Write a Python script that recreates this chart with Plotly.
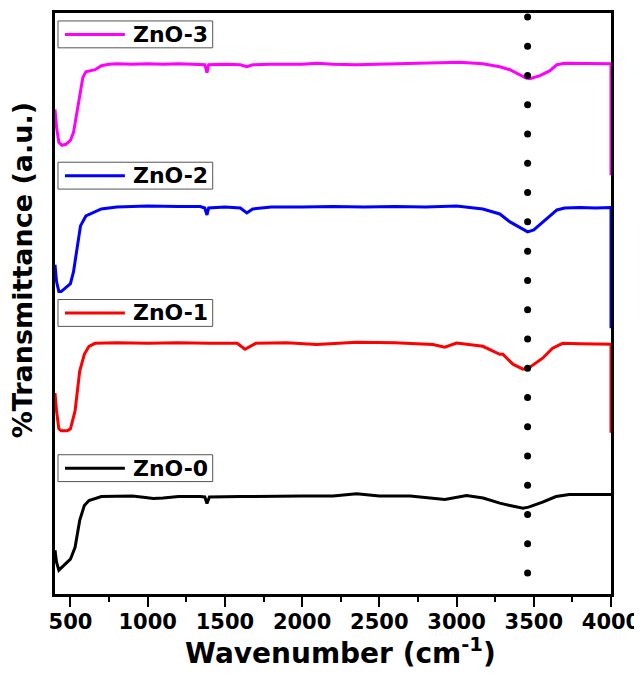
import numpy as np
import plotly.graph_objects as go

# ---------------- data ----------------
wn_zno3 = [400, 410, 425, 445, 470, 500, 520, 540, 560, 580, 600, 630, 660, 700, 750, 800, 900, 1000,
           1100, 1200, 1340, 1370, 1384, 1395, 1500, 1600, 1642, 1680, 1800, 2000, 2095, 2200, 2353, 2500,
           2700, 2956, 3020, 3170, 3280, 3345, 3410, 3450, 3475, 3540, 3605, 3650, 3700, 3800, 3900, 4000, 4000]
t_zno3 = [487, 469, 454, 451, 452, 456, 464, 482, 504, 519, 525, 526, 527, 531, 532.5, 533, 532.5, 533,
          532.5, 533, 532.5, 532, 524, 532, 532.5, 532, 530, 532, 532.5, 532.5, 533.5, 532.5, 532, 532.5,
          533, 534, 534.5, 533, 530, 527, 522, 518.5, 518, 521, 526, 532, 533.5, 533.5, 533, 533, 421]

wn_zno2 = [400, 410, 425, 440, 470, 500, 520, 540, 565, 600, 640, 700, 800, 1000, 1200, 1340, 1370, 1384,
           1395, 1500, 1600, 1642, 1680, 1800, 2000, 2200, 2400, 2600, 2800, 3000, 3170, 3280, 3346, 3420,
           3460, 3500, 3560, 3620, 3650, 3700, 3800, 3900, 4000, 4000]
t_zno2 = [331, 314, 304, 304, 308, 312, 324, 344, 370, 380, 383, 387, 389, 390, 389.5, 389.5, 388, 381,
          388, 389, 388, 383, 387, 389, 389, 389.5, 389, 389.5, 389, 390, 387, 382, 374, 367,
          364, 366, 374, 382, 386, 388, 388.5, 388, 388.5, 267]

wn_zno1 = [400, 410, 425, 440, 480, 500, 530, 560, 590, 620, 660, 800, 1000, 1200, 1400, 1580, 1630,
           1700, 1900, 2095, 2353, 2600, 2847, 2924, 3000, 3170, 3280, 3300, 3365, 3430, 3466, 3557,
           3622, 3687, 3800, 3900, 4000, 4000]
t_zno1 = [202, 184, 166, 164, 164, 166, 184, 224, 241, 249, 252, 252.5, 252, 252.5, 252, 252, 246,
          252, 252.5, 250.7, 253, 252.5, 250.7, 248, 252.3, 249, 241, 241, 231, 226, 227, 237,
          247, 252, 251.5, 251.5, 251, 162]

wn_zno0 = [400, 410, 425, 445, 470, 500, 530, 560, 590, 620, 700, 800, 900, 972, 1037, 1100, 1200, 1340,
           1370, 1384, 1400, 1600, 1800, 2000, 2200, 2353, 2500, 2700, 2924, 3065, 3172, 3280, 3346,
           3430, 3466, 3557, 3644, 3730, 3850, 4000]
t_zno0 = [44, 32, 24, 27, 31, 35, 47, 74, 89, 94, 98, 98.5, 98.5, 97.3, 96, 96.5, 98, 98,
          97.5, 91, 97.5, 98, 98.5, 98.5, 98.5, 100.7, 98.5, 98.5, 95, 99, 96.5, 91.3, 89,
          86.3, 87.3, 92.3, 98, 100, 100, 100]

series_names = ["ZnO-3", "ZnO-2", "ZnO-1", "ZnO-0"]
series_colors = ["#FF00FF", "#0000FF", "#FF0000", "#000000"]
series_x = [wn_zno3, wn_zno2, wn_zno1, wn_zno0]
series_y = [t_zno3, t_zno2, t_zno1, t_zno0]

marker_wn = 3460  # dotted guide position (cm-1)
x_ticks = [500, 1000, 1500, 2000, 2500, 3000, 3500, 4000]

# ---------------- layout geometry (page pixels) ----------------
FONT = "DejaVu Sans"
W, H = 634, 669          # page body has an 8px margin
PL, PR, PT, PB = 55, 612, 10, 594   # plot box in page pixels


def px(x):
    return (x - PL) / (PR - PL)


def py(y):
    return (PB - y) / (PB - PT)


# legend boxes: (top, bottom) in page pixels
legend_boxes = [(18, 45), (160, 187), (298, 325), (454, 481)]

fig = go.Figure()
for name, color, xs, ys in zip(series_names, series_colors, series_x, series_y):
    fig.add_trace(go.Scatter(x=xs, y=ys, mode="lines", name=name,
                             line=dict(color=color, width=3), showlegend=False))

# dotted vertical guide
dot_y = np.linspace(21, 580, 20)
fig.add_trace(go.Scatter(x=[marker_wn] * len(dot_y), y=dot_y, mode="markers",
                         marker=dict(color="black", size=7), showlegend=False, hoverinfo="skip"))

# manual boxed legends (one per curve)
for name, color, (top, bot) in zip(series_names, series_colors, legend_boxes):
    fig.add_shape(type="rect", xref="paper", yref="paper",
                  x0=px(58), x1=px(213), y0=py(bot), y1=py(top),
                  line=dict(color="#555555", width=1), fillcolor="white", layer="above")
    ym = py((top + bot) / 2)
    fig.add_shape(type="line", xref="paper", yref="paper",
                  x0=px(65), x1=px(125), y0=ym, y1=ym,
                  line=dict(color=color, width=3), layer="above")
    fig.add_annotation(text=name, xref="paper", yref="paper", x=px(131), y=ym,
                       xanchor="left", yanchor="middle", showarrow=False,
                       font=dict(family=FONT, size=22, color="black", weight="bold"))

fig.update_layout(
    width=W, height=H,
    margin=dict(l=PL - 8, r=W - (PR - 8), t=PT - 8, b=H - (PB - 8)),
    paper_bgcolor="white", plot_bgcolor="white",
    showlegend=False,
)

fig.update_xaxes(
    range=[400, 4000], tickvals=x_ticks,
    ticks="outside", ticklen=10, tickwidth=2, tickcolor="black",
    minor=dict(dtick=250, tick0=250, ticks="outside", ticklen=5, tickwidth=2, tickcolor="black"),
    showline=True, linecolor="black", linewidth=2.5, mirror=True,
    showgrid=False, zeroline=False, ticklabelstandoff=-3,
    tickfont=dict(family=FONT, size=21, color="black", weight="bold"),
)
fig.update_yaxes(
    range=[0, 584], showticklabels=False, ticks="",
    showline=True, linecolor="black", linewidth=2.5, mirror=True,
    showgrid=False, zeroline=False,
)

fig.add_annotation(
    text="Wavenumber (cm<sup>-1</sup>)",
    xref="paper", yref="paper", x=px(341), y=py(652),
    xanchor="center", yanchor="middle", showarrow=False,
    font=dict(family=FONT, size=28, color="black", weight="bold"),
)
fig.add_annotation(
    text="%Transmittance (a.u.)", textangle=-90,
    xref="paper", yref="paper", x=px(22), y=py(268.5),
    xanchor="center", yanchor="middle", showarrow=False,
    font=dict(family=FONT, size=27, color="black", weight="bold"),
)

fig.write_html("out.html")
